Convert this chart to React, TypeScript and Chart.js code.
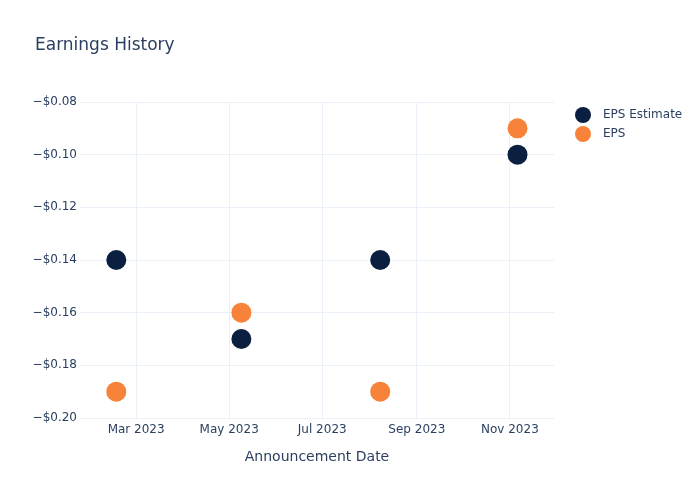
import React, { useEffect, useRef } from "react";
import { Chart, registerables } from "chart.js";

Chart.register(...registerables);

const announcementDates = ["2023-02-16", "2023-05-09", "2023-08-08", "2023-11-06"];
const epsEstimate = [-0.14, -0.17, -0.14, -0.1];
const epsActual = [-0.19, -0.16, -0.19, -0.09];
const xTickMonths = ["2023-03-01", "2023-05-01", "2023-07-01", "2023-09-01", "2023-11-01"];
const yTicks = [-0.2, -0.18, -0.16, -0.14, -0.12, -0.1, -0.08];
const seriesLabels = ["EPS Estimate", "EPS"];
const seriesColors = ["#0b1f41", "#f7823a"];
const monthNames = ["Jan", "Feb", "Mar", "Apr", "May", "Jun", "Jul", "Aug", "Sep", "Oct", "Nov", "Dec"];

const toMs = (s: string) => {
  const [y, m, d] = s.split("-").map(Number);
  return Date.UTC(y, m - 1, d);
};

const TEXT = "#2a3f5f";
const FONT = "'DejaVu Sans', sans-serif";

const overlayPlugin = {
  id: "overlay",
  afterDraw(chart: any) {
    const ctx = chart.ctx;
    const area = chart.chartArea;
    ctx.save();
    ctx.fillStyle = TEXT;
    ctx.textBaseline = "middle";
    ctx.textAlign = "left";
    ctx.font = `17px ${FONT}`;
    ctx.fillText("Earnings History", 35, 46);
    ctx.font = `14px ${FONT}`;
    ctx.textAlign = "center";
    ctx.fillText("Announcement Date", (area.left + area.right) / 2, 457);
    ctx.font = `12px ${FONT}`;
    ctx.textAlign = "left";
    chart.data.datasets.forEach((ds: any, i: number) => {
      const y = 115 + i * 19;
      ctx.beginPath();
      ctx.fillStyle = ds.backgroundColor;
      ctx.arc(583, y, 8, 0, Math.PI * 2);
      ctx.fill();
      ctx.fillStyle = TEXT;
      ctx.fillText(ds.label, 603, y);
    });
    ctx.restore();
  },
};

export default function App() {
  const ref = useRef<HTMLCanvasElement | null>(null);
  useEffect(() => {
    if (!ref.current) return;
    const xs = announcementDates.map(toMs);
    const chart = new Chart(ref.current, {
      type: "scatter",
      data: {
        datasets: [
          {
            label: seriesLabels[0],
            data: xs.map((x, i) => ({ x, y: epsEstimate[i] })),
            backgroundColor: seriesColors[0],
            borderWidth: 0,
            pointRadius: 10,
            pointHoverRadius: 10,
          },
          {
            label: seriesLabels[1],
            data: xs.map((x, i) => ({ x, y: epsActual[i] })),
            backgroundColor: seriesColors[1],
            borderWidth: 0,
            pointRadius: 10,
            pointHoverRadius: 10,
          },
        ],
      },
      options: {
        animation: false,
        responsive: false,
        layout: { padding: { left: 0, top: 102, right: 146, bottom: 0 } },
        plugins: {
          legend: { display: false },
          title: { display: false },
          tooltip: { enabled: false },
        },
        scales: {
          x: {
            type: "linear",
            min: Date.UTC(2023, 0, 23, 5),
            max: Date.UTC(2023, 10, 29, 22),
            afterBuildTicks: (scale: any) => {
              scale.ticks = xTickMonths.map((m) => ({ value: toMs(m) }));
            },
            afterFit: (scale: any) => {
              scale.height = 82;
            },
            grid: { color: "#EBF0F8", drawTicks: false },
            border: { display: false },
            ticks: {
              padding: 5,
              color: TEXT,
              font: { family: FONT, size: 12 },
              maxRotation: 0,
              autoSkip: false,
              callback: (v: any) => {
                const d = new Date(Number(v));
                return `${monthNames[d.getUTCMonth()]} ${d.getUTCFullYear()}`;
              },
            },
          },
          y: {
            min: -0.2,
            max: -0.08,
            afterBuildTicks: (scale: any) => {
              scale.ticks = yTicks.map((v) => ({ value: v }));
            },
            afterFit: (scale: any) => {
              scale.width = 80;
            },
            grid: { color: "#EBF0F8", drawTicks: false },
            border: { display: false },
            ticks: {
              padding: 3,
              color: TEXT,
              font: { family: FONT, size: 12 },
              callback: (v: any) => {
                const n = Number(v);
                const s = "$" + Math.abs(n).toFixed(2);
                return n < 0 ? "\u2212" + s : s;
              },
            },
          },
        },
      },
      plugins: [overlayPlugin],
    });
    return () => chart.destroy();
  }, []);
  return (
    <div style={{ position: "absolute", left: 0, top: 0, width: 700, height: 500, background: "#fff" }}>
      <canvas ref={ref} width={700} height={500} />
    </div>
  );
}
